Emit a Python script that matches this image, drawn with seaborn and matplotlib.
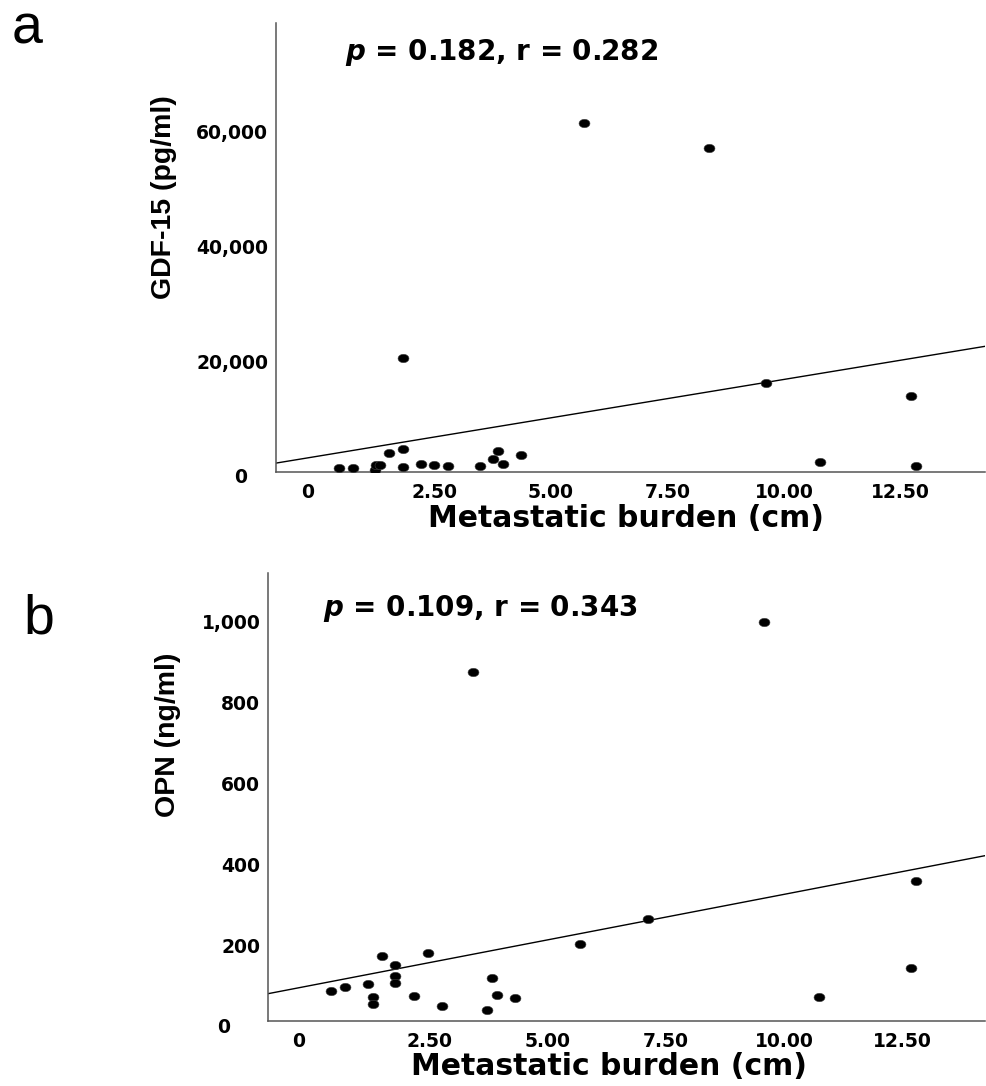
import numpy as np
import matplotlib
matplotlib.use("Agg")
import matplotlib.pyplot as plt
import seaborn as sns
from matplotlib.path import Path
from matplotlib.transforms import blended_transform_factory, ScaledTranslation

# Panel a: serum GDF-15 against metastatic burden
burden_a = [0.45, 0.75, 1.23, 1.24, 1.33, 1.52, 1.82, 1.82, 1.82, 2.21, 2.49, 2.80,
            3.48, 3.76, 3.87, 3.97, 4.35, 5.71, 8.39, 9.61, 10.78, 12.72, 12.83]
gdf15 = [1460, 1460, 1165, 2035, 2035, 4175, 20700, 4765, 1740, 2155, 2035, 1860,
         1860, 3025, 4520, 2155, 3720, 61500, 57150, 16350, 2505, 13980, 1810]

# Panel b: serum OPN against metastatic burden
burden_b = [0.41, 0.71, 1.19, 1.29, 1.29, 1.48, 1.77, 1.77, 1.77, 2.16, 2.46, 2.75,
            3.41, 3.72, 3.82, 3.92, 4.31, 5.67, 7.13, 9.58, 10.75, 12.69, 12.80]
opn = [88, 98, 106, 73, 55, 175, 152, 126, 107, 76, 182, 51,
       875, 41, 119, 79, 71, 203, 265, 999, 74, 144, 360]

stats_a = ("0.182", "0.282")
stats_b = ("0.109", "0.343")

xticks = [2.5, 5.0, 7.5, 10.0, 12.5]
xtick_labels = ["2.50", "5.00", "7.50", "10.00", "12.50"]
yticks_a = [20000, 40000, 60000]
ytick_labels_a = ["20,000", "40,000", "60,000"]
yticks_b = [200, 400, 600, 800, 1000]
ytick_labels_b = ["200", "400", "600", "800", "1,000"]

sns.set_theme(style="white")
plt.rcParams["font.family"] = ["DejaVu Sans"]
plt.rcParams["mathtext.fontset"] = "dejavusans"
plt.rcParams["text.color"] = "black"
plt.rcParams["axes.labelcolor"] = "black"

W, H = 986, 1086
fig = plt.figure(figsize=(W / 100, H / 100), dpi=100)


def axes_px(left, top, right, bottom):
    return fig.add_axes([left / W, 1 - bottom / H, (right - left) / W, (bottom - top) / H])


ax_a = axes_px(276, 23, 985, 472)
ax_b = axes_px(268, 573, 985, 1021)

# slightly wide elliptical dot
t = np.linspace(0, 2 * np.pi, 41)
dot = Path(np.column_stack([1.3 * np.cos(t), np.sin(t)]))

tick_font = dict(family="DejaVu Sans", weight="bold", size=13.5, color="black")
xlabel_font = dict(family="DejaVu Sans", weight="bold", size=21.5, color="black")
ylabel_font = dict(family="Liberation Sans", weight="bold", size=20.5, color="black")


def draw_panel(ax, x, y, xlim, ylim, yticks, ylabels, ylabel, stats, stat_pos,
               ylabel_pos, xlabel_pos, xzero_off, yzero_off):
    ax.set_xlim(*xlim)
    ax.set_ylim(*ylim)
    sns.regplot(x=x, y=y, ax=ax, scatter=False, ci=None, truncate=False,
                line_kws=dict(color="black", lw=1.0))
    sns.scatterplot(x=x, y=y, ax=ax, marker=dot, s=62, color="black",
                    edgecolor="#444444", linewidth=0.4, zorder=3)
    ax.set_xlim(*xlim)
    ax.set_ylim(*ylim)

    ax.set_xticks(xticks)
    ax.set_xticklabels(xtick_labels, fontdict=tick_font)
    ax.set_yticks(yticks)
    ax.set_yticklabels(ylabels, fontdict=tick_font)
    ax.tick_params(axis="x", length=0, pad=8, colors="black")
    ax.tick_params(axis="y", length=0, pad=5.5, colors="black")

    # zero labels sit slightly apart from the origin
    bx = blended_transform_factory(ax.transData, ax.transAxes)
    ax.text(0, 0, "0", transform=bx + ScaledTranslation(xzero_off / 100, -11 / 100, fig.dpi_scale_trans),
            ha="center", va="top", **tick_font)
    by = blended_transform_factory(ax.transAxes, ax.transData)
    ax.text(0, 0, "0", transform=by + ScaledTranslation(yzero_off / 100, -1 / 100, fig.dpi_scale_trans),
            ha="center", va="center", **tick_font)

    ax.set_xlabel("Metastatic burden (cm)", fontdict=xlabel_font)
    ax.xaxis.set_label_coords(*xlabel_pos)
    ax.set_ylabel(ylabel, fontdict=ylabel_font)
    ax.yaxis.set_label_coords(*ylabel_pos)

    for side in ("top", "right"):
        ax.spines[side].set_visible(False)
    for side in ("left", "bottom"):
        ax.spines[side].set_color("#555555")
        ax.spines[side].set_linewidth(1.1)

    ax.text(stat_pos[0], stat_pos[1],
            r"$\mathbfit{p}$" + f" = {stats[0]}, r = {stats[1]}",
            transform=ax.transAxes, ha="left", va="center",
            family="DejaVu Sans", weight="bold", size=20, color="black")


draw_panel(ax_a, burden_a, gdf15, (-0.90, 14.31), (817, 78904),
           yticks_a, ytick_labels_a, "GDF-15 (pg/ml)", stats_a, (0.097, 0.935),
           (-0.140, 0.612), (0.494, -0.071), -10, -35)
draw_panel(ax_b, burden_b, opn, (-0.93, 14.26), (13.6, 1120.5),
           yticks_b, ytick_labels_b, "OPN (ng/ml)", stats_b, (0.077, 0.921),
           (-0.121, 0.638), (0.476, -0.069), -13, -44)

fig.text(12 / W, 1 - 43 / H, "a", family="Liberation Sans", size=40, va="baseline", color="black")
fig.text(23 / W, 1 - 633 / H, "b", family="Liberation Sans", size=40, va="baseline", color="black")

fig.savefig("out.png", dpi=100)
